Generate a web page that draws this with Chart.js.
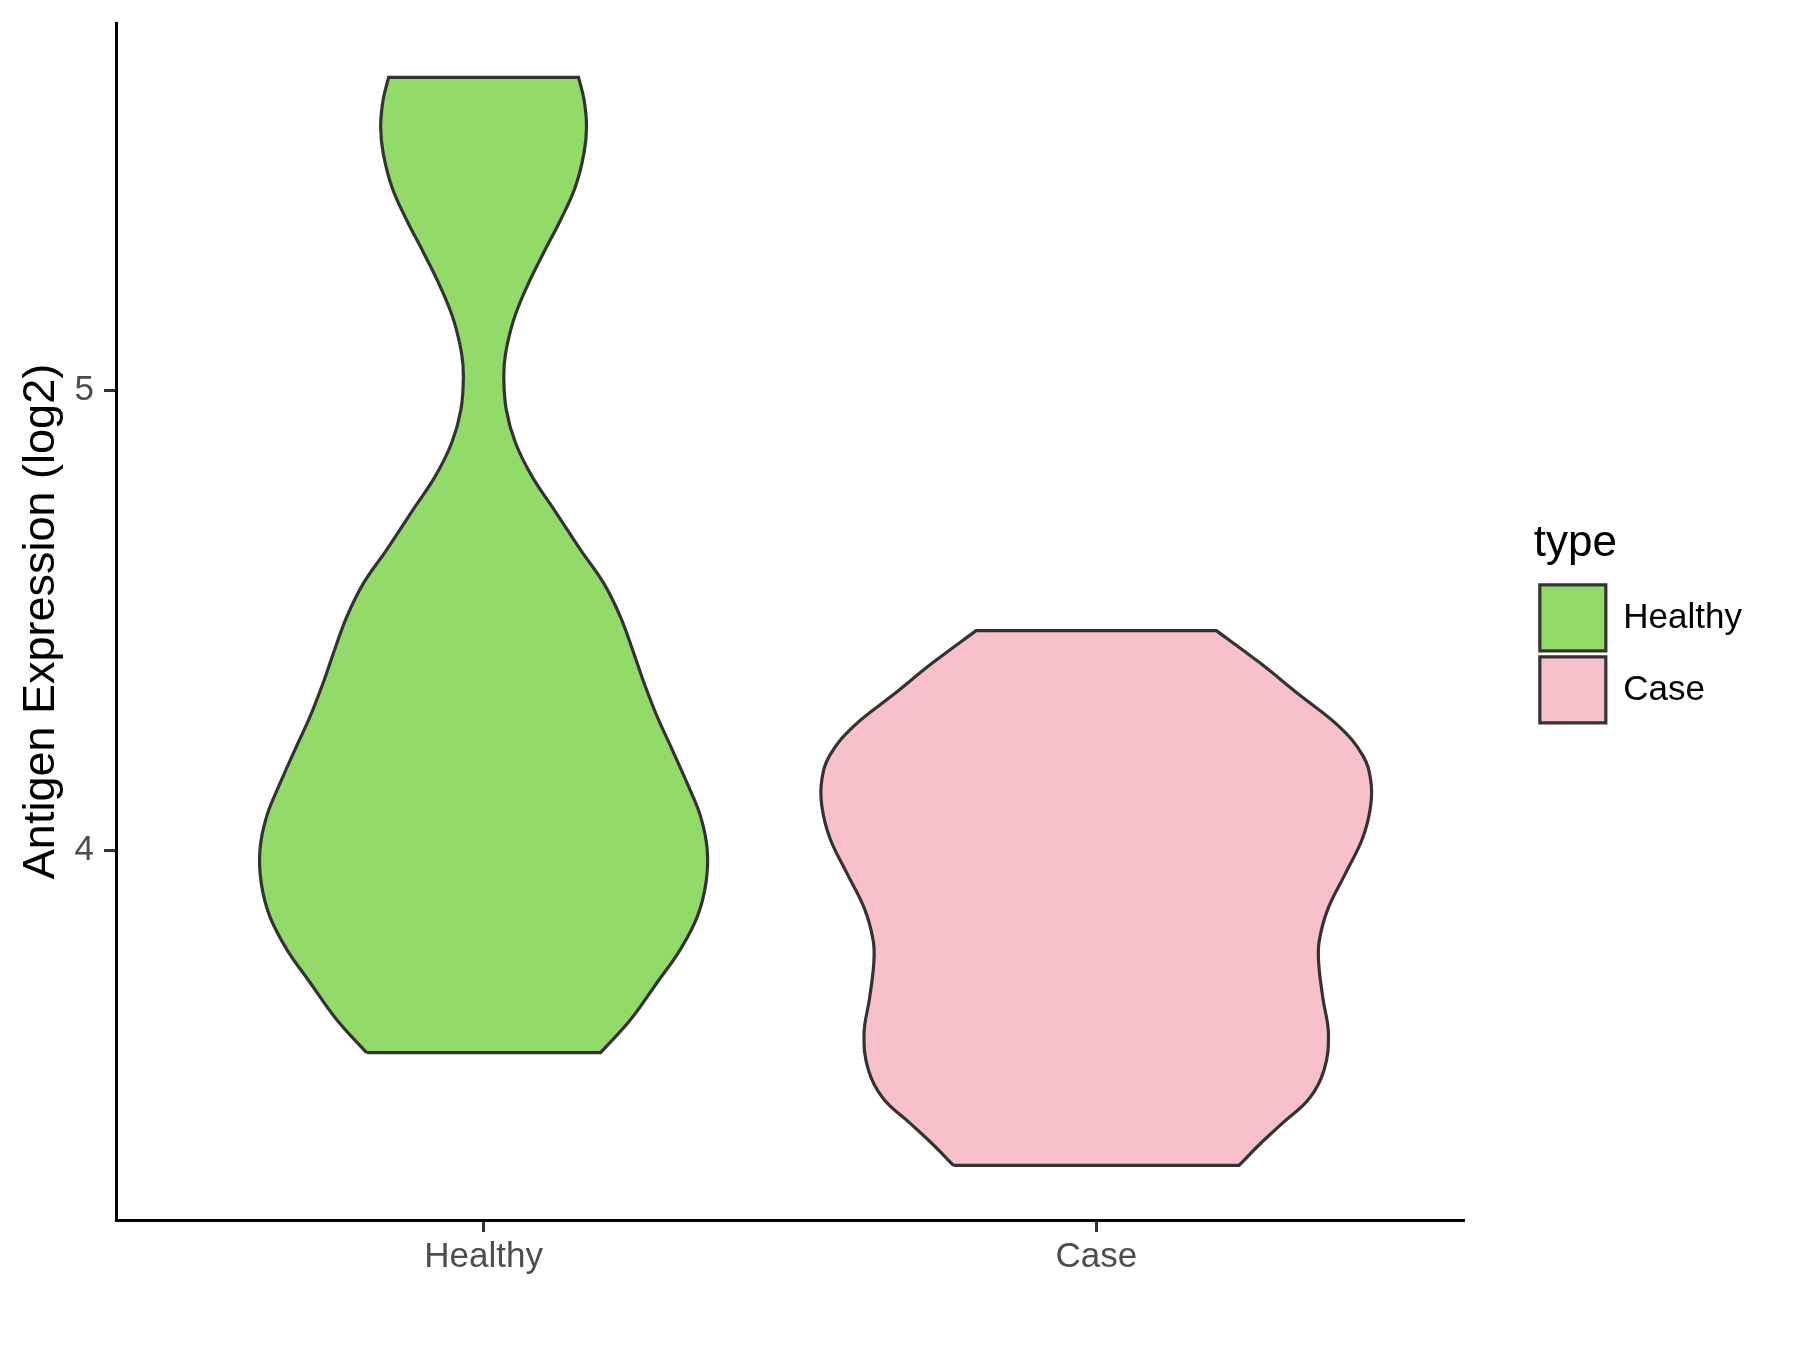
<!DOCTYPE html>
<html>
<head>
<meta charset="utf-8">
<script src="https://cdn.jsdelivr.net/npm/chart.js@4.4.1/dist/chart.umd.min.js"></script>
<style>
  html, body { margin: 0; padding: 0; background: #fff; }
  #wrap { width: 1800px; height: 1350px; }
</style>
</head>
<body>
<div id="wrap"><canvas id="violinChart" width="1800" height="1350"></canvas></div>
<script>
// groups along the x axis
var categories = ['Healthy', 'Case'];

// violin outlines: expression (log2), bottom to top,
// and the half width of the density at that level (in x-axis units)
var healthyY = [3.561, 3.633, 3.713, 3.785, 3.857, 3.930, 4.002, 4.075, 4.147, 4.219, 4.292,
                4.364, 4.437, 4.509, 4.581, 4.654, 4.741, 4.813, 4.886, 4.958, 5.030, 5.081,
                5.153, 5.226, 5.299, 5.371, 5.443, 5.516, 5.573, 5.631, 5.680];
var healthyHalfWidth = [0.191, 0.240, 0.283, 0.321, 0.349, 0.363, 0.365, 0.354, 0.332, 0.308, 0.283,
                        0.262, 0.243, 0.223, 0.196, 0.158, 0.115, 0.079, 0.052, 0.037, 0.033, 0.036,
                        0.049, 0.071, 0.098, 0.126, 0.150, 0.164, 0.168, 0.164, 0.155];

var caseY = [3.316, 3.361, 3.408, 3.462, 3.524, 3.602, 3.679, 3.757, 3.804, 3.873,
             3.951, 4.028, 4.098, 4.153, 4.207, 4.269, 4.339, 4.409, 4.478];
var caseHalfWidth = [0.233, 0.266, 0.304, 0.348, 0.372, 0.379, 0.370, 0.363, 0.364, 0.378,
                     0.407, 0.435, 0.448, 0.448, 0.435, 0.397, 0.331, 0.266, 0.196];

var yTicks = [4, 5];
var yMin = 3.1975, yMax = 5.798;

Chart.defaults.font.family = "'Liberation Sans', Arial, sans-serif";

// left side going up, right side coming down, back to the start.
// end points are doubled so the flat top and bottom stay straight
function outline(pos, ys, hw) {
    var n = ys.length;
    var pts = [{x: pos - hw[0], y: ys[0]}];
    for (var i = 0; i < n; i++) pts.push({x: pos - hw[i], y: ys[i]});
    pts.push({x: pos - hw[n - 1], y: ys[n - 1]});
    pts.push({x: pos + hw[n - 1], y: ys[n - 1]});
    for (var j = n - 1; j >= 0; j--) pts.push({x: pos + hw[j], y: ys[j]});
    pts.push({x: pos + hw[0], y: ys[0]});
    pts.push({x: pos - hw[0], y: ys[0]});
    return pts;
}

// fill the closed outline of each violin before its border is stroked
var violinFill = {
    id: 'violinFill',
    beforeDatasetDraw: function (chart, args) {
        var line = args.meta.dataset;
        var ctx = chart.ctx;
        ctx.save();
        ctx.beginPath();
        line.path(ctx);
        ctx.closePath();
        ctx.fillStyle = line.options.backgroundColor;
        ctx.fill();
        ctx.restore();
    }
};

// push the legend a bit away from the plot panel, like ggplot does
var legendGap = 70;
var legendDrop = 4;
var legendShift = {
    id: 'legendShift',
    afterLayout: function (chart) {
        chart.legend.left += legendGap;
        chart.legend.right += legendGap;
        chart.legend.top += legendDrop;
        chart.legend.bottom += legendDrop;
    }
};

var ctx = document.getElementById('violinChart').getContext('2d');
var violinChart = new Chart(ctx, {
    type: 'scatter',
    data: {
        datasets: [{
            label: categories[0],
            data: outline(1, healthyY, healthyHalfWidth),
            showLine: true,
            backgroundColor: '#93DB69',
            borderColor: '#333333',
            borderWidth: 3.2,
            pointRadius: 0,
            pointHoverRadius: 0,
            tension: 0.4,
            fill: false
        }, {
            label: categories[1],
            data: outline(2, caseY, caseHalfWidth),
            showLine: true,
            backgroundColor: '#F7C0CB',
            borderColor: '#333333',
            borderWidth: 3.2,
            pointRadius: 0,
            pointHoverRadius: 0,
            tension: 0.4,
            fill: false
        }]
    },
    options: {
        responsive: false,
        animation: false,
        devicePixelRatio: 1,
        layout: {padding: {top: 23, right: 118, bottom: 0, left: 0}},
        plugins: {
            tooltip: {enabled: false},
            legend: {
                position: 'right',
                align: 'center',
                fullSize: false,
                title: {
                    display: true,
                    text: 'type',
                    position: 'start',
                    color: '#000',
                    font: {size: 44},
                    padding: {top: 0, bottom: 4}
                },
                labels: {
                    boxWidth: 66,
                    boxHeight: 66,
                    padding: 6,
                    color: '#000',
                    font: {size: 35}
                }
            }
        },
        scales: {
            x: {
                type: 'linear',
                min: 0.4,
                max: 2.6,
                afterBuildTicks: function (scale) {
                    scale.ticks = [{value: 1}, {value: 2}];
                },
                afterFit: function (scale) {
                    scale.height = 130;
                    scale.paddingLeft = 0;
                    scale.paddingRight = 0;
                },
                ticks: {
                    color: '#4D4D4D',
                    font: {size: 35},
                    padding: 4,
                    callback: function (v) { return categories[v - 1]; }
                },
                grid: {drawOnChartArea: false, drawTicks: true, tickLength: 12, color: '#333333', lineWidth: 3},
                border: {display: true, color: '#000', width: 3}
            },
            y: {
                type: 'linear',
                min: yMin,
                max: yMax,
                afterBuildTicks: function (scale) {
                    scale.ticks = yTicks.map(function (v) { return {value: v}; });
                },
                afterFit: function (scale) {
                    scale.width = 116;
                    scale.paddingTop = 0;
                    scale.paddingBottom = 0;
                },
                ticks: {
                    color: '#4D4D4D',
                    font: {size: 35},
                    padding: 10
                },
                grid: {drawOnChartArea: false, drawTicks: true, tickLength: 12, color: '#333333', lineWidth: 3},
                border: {display: true, color: '#000', width: 3},
                title: {
                    display: true,
                    text: 'Antigen Expression (log2)',
                    color: '#000',
                    font: {size: 45},
                    padding: {top: 15, bottom: 0}
                }
            }
        }
    },
    plugins: [violinFill, legendShift]
});
</script>
</body>
</html>
